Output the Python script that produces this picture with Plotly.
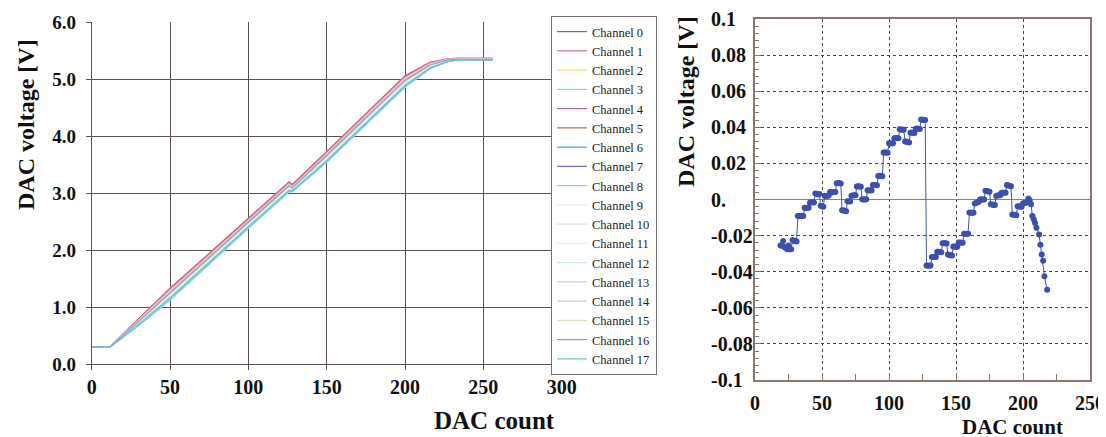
import plotly.graph_objects as go

W, H = 1106, 437
OFF = 8  # default page body margin in the written HTML

# ---------------- Left chart data (18 channels) ----------------
dac_x = [0, 12, 30, 50, 100, 126, 128, 150, 200, 216, 227, 234, 256]
channel_names = [f"Channel {i}" for i in range(18)]
channel_colors = ["#5f6fb5", "#d46aa6", "#e9e27a", "#86d3ea", "#b464b4", "#c0604e",
                  "#3fa7b0", "#6e6ec4", "#86cdea", "#dff1f3", "#d4e8d4", "#f2f2c4",
                  "#cfe3f3", "#f2b6cb", "#ebbfd6", "#f3d6c0", "#959bc6", "#5fc3d3"]
ch0 = [0.30, 0.31, 0.76, 1.27, 2.50, 3.15, 3.10, 3.67, 5.00, 5.27, 5.34, 5.35, 5.34]
ch1 = [0.30, 0.31, 0.80, 1.33, 2.56, 3.20, 3.15, 3.73, 5.06, 5.30, 5.36, 5.37, 5.37]
ch2 = [0.29, 0.30, 0.71, 1.19, 2.43, 3.07, 3.07, 3.59, 4.91, 5.21, 5.32, 5.35, 5.35]
ch3 = [0.29, 0.30, 0.67, 1.12, 2.38, 3.02, 3.02, 3.54, 4.86, 5.18, 5.31, 5.34, 5.34]
ch4 = [0.30, 0.31, 0.79, 1.31, 2.54, 3.19, 3.14, 3.71, 5.04, 5.29, 5.35, 5.36, 5.36]
ch5 = [0.30, 0.31, 0.79, 1.32, 2.55, 3.18, 3.15, 3.72, 5.05, 5.29, 5.35, 5.36, 5.36]
ch6 = [0.30, 0.31, 0.75, 1.25, 2.48, 3.12, 3.09, 3.65, 4.98, 5.25, 5.33, 5.35, 5.35]
ch7 = [0.30, 0.31, 0.77, 1.28, 2.52, 3.16, 3.12, 3.68, 5.01, 5.27, 5.34, 5.35, 5.33]
ch8 = [0.29, 0.30, 0.68, 1.14, 2.39, 3.03, 3.03, 3.55, 4.87, 5.19, 5.31, 5.34, 5.34]
ch9 = [0.30, 0.31, 0.74, 1.23, 2.47, 3.11, 3.08, 3.63, 4.96, 5.24, 5.33, 5.35, 5.35]
ch10 = [0.30, 0.31, 0.73, 1.22, 2.45, 3.10, 3.07, 3.62, 4.95, 5.23, 5.33, 5.35, 5.35]
ch11 = [0.29, 0.30, 0.72, 1.20, 2.44, 3.09, 3.07, 3.61, 4.93, 5.22, 5.32, 5.35, 5.35]
ch12 = [0.29, 0.30, 0.70, 1.17, 2.41, 3.06, 3.05, 3.58, 4.90, 5.20, 5.32, 5.34, 5.34]
ch13 = [0.30, 0.31, 0.78, 1.30, 2.53, 3.17, 3.12, 3.70, 5.03, 5.28, 5.35, 5.36, 5.36]
ch14 = [0.30, 0.31, 0.77, 1.28, 2.51, 3.16, 3.11, 3.68, 5.01, 5.27, 5.35, 5.36, 5.36]
ch15 = [0.30, 0.31, 0.76, 1.26, 2.49, 3.14, 3.10, 3.66, 4.99, 5.26, 5.34, 5.35, 5.35]
ch16 = [0.30, 0.31, 0.75, 1.25, 2.49, 3.13, 3.09, 3.66, 4.98, 5.25, 5.34, 5.35, 5.35]
ch17 = [0.29, 0.30, 0.70, 1.16, 2.41, 3.05, 3.04, 3.57, 4.89, 5.20, 5.31, 5.34, 5.34]
channels = [ch0, ch1, ch2, ch3, ch4, ch5, ch6, ch7, ch8, ch9, ch10, ch11, ch12,
            ch13, ch14, ch15, ch16, ch17]
left_yticks = [0, 1, 2, 3, 4, 5, 6]
left_yticktext = ["0.0", "1.0", "2.0", "3.0", "4.0", "5.0", "6.0"]
left_xticks = [0, 50, 100, 150, 200, 250, 300]

# ---------------- Right chart data (deviation) ----------------
dev_x = list(range(19, 207)) + [207, 208, 209, 210, 212, 213, 214, 215, 216, 218]
dev_y = [
    -0.0255, -0.0255, -0.0230, -0.0265, -0.0265, -0.0275, -0.0255, -0.0275, -0.0275,  # 19-27
    -0.0225, -0.0230, -0.0230, -0.0232,                                               # 28-31
    -0.0092, -0.0092, -0.0092, -0.0090, -0.0092,                                      # 32-36
    -0.0046, -0.0048, -0.0046, -0.0046,                                               # 37-40
    -0.0018, -0.0015, -0.0015, -0.0016,                                               # 41-44
    0.0033, 0.0032, 0.0028, 0.0030,                                                   # 45-48
    -0.0035, -0.0037, -0.0040,                                                        # 49-51
    0.0021, 0.0020, 0.0021, 0.0022,                                                   # 52-55
    0.0041, 0.0040, 0.0040, 0.0042, 0.0041,                                           # 56-60
    0.0090, 0.0092, 0.0090, 0.0088,                                                   # 61-64
    -0.0060, -0.0061, -0.0063, -0.0065,                                               # 65-68
    -0.0010, -0.0010, -0.0011,                                                        # 69-71
    0.0021, 0.0022, 0.0024, 0.0023,                                                   # 72-75
    0.0072, 0.0074, 0.0072, 0.0070,                                                   # 76-79
    0.0001, 0.0000, 0.0000, 0.0001,                                                   # 80-83
    0.0051, 0.0050, 0.0051, 0.0050,                                                   # 84-87
    0.0080, 0.0081, 0.0080, 0.0079,                                                   # 88-91
    0.0130, 0.0131, 0.0130, 0.0129,                                                   # 92-95
    0.0260, 0.0261, 0.0260, 0.0259,                                                   # 96-99
    0.0311, 0.0312, 0.0310, 0.0311,                                                   # 100-103
    0.0340, 0.0341, 0.0340, 0.0339,                                                   # 104-107
    0.0389, 0.0388, 0.0387, 0.0386,                                                   # 108-111
    0.0322, 0.0320, 0.0318, 0.0316,                                                   # 112-115
    0.0370, 0.0371, 0.0370, 0.0369,                                                   # 116-119
    0.0392, 0.0393, 0.0392, 0.0391,                                                   # 120-123
    0.0443, 0.0442, 0.0441, 0.0440,                                                   # 124-127
    -0.0365, -0.0367, -0.0367, -0.0366,                                               # 128-131
    -0.0318, -0.0318, -0.0317, -0.0318,                                               # 132-135
    -0.0290, -0.0290, -0.0291, -0.0292,                                               # 136-139
    -0.0242, -0.0242, -0.0243, -0.0244,                                               # 140-143
    -0.0305, -0.0308, -0.0309, -0.0310,                                               # 144-147
    -0.0260, -0.0261, -0.0262, -0.0262,                                               # 148-151
    -0.0238, -0.0238, -0.0239, -0.0240,                                               # 152-155
    -0.0190, -0.0190, -0.0191, -0.0190,                                               # 156-159
    -0.0072, -0.0073, -0.0074, -0.0074,                                               # 160-163
    -0.0022, -0.0020, -0.0015, -0.0013,                                               # 164-167
    0.0000, 0.0001, 0.0000, 0.0000,                                                   # 168-171
    0.0048, 0.0047, 0.0044, 0.0043,                                                   # 172-175
    -0.0026, -0.0028, -0.0030, -0.0031,                                               # 176-179
    0.0020, 0.0022, 0.0024, 0.0024,                                                   # 180-183
    0.0037, 0.0037, 0.0037, 0.0038,                                                   # 184-187
    0.0080, 0.0078, 0.0076, 0.0074,                                                   # 188-191
    -0.0083, -0.0085, -0.0086, -0.0087,                                               # 192-195
    -0.0037, -0.0038, -0.0040, -0.0040,                                               # 196-199
    -0.0022, -0.0020, -0.0017, -0.0017,                                               # 200-203
    0.0006, -0.0004, -0.0026,                                                         # 204-206
    -0.0092, -0.0110, -0.0130, -0.0157, -0.0194, -0.0250, -0.0305, -0.0340,
    -0.0425, -0.0500,
]
right_yticks = [0.1, 0.08, 0.06, 0.04, 0.02, 0.0, -0.02, -0.04, -0.06, -0.08, -0.1]
right_yticktext = ["0.1", "0.08", "0.06", "0.04", "0.02", "0.", "-0.02", "-0.04",
                   "-0.06", "-0.08", "-0.1"]
right_xticks = [0, 50, 100, 150, 200, 250]

SERIF = "Liberation Serif, Times New Roman, serif"


def px(xp):
    return (xp - OFF) / W


def py(yp):
    return 1 - (yp - OFF) / H


fig = go.Figure()

for name, color, vals in zip(channel_names, channel_colors, channels):
    fig.add_trace(go.Scatter(x=dac_x, y=vals, mode="lines", name=name,
                             line=dict(color=color, width=1.2),
                             xaxis="x", yaxis="y"))

fig.add_trace(go.Scatter(x=dev_x, y=dev_y, mode="lines+markers", showlegend=False,
                         line=dict(color="#4254b0", width=1),
                         marker=dict(color="#3d4fae", size=6),
                         xaxis="x2", yaxis="y2"))

grid_left = "#5e5050"
frame_right = "#86786f"

fig.update_layout(
    template="none",
    width=W, height=H,
    margin=dict(l=0, r=0, t=0, b=0, autoexpand=False),
    paper_bgcolor="white", plot_bgcolor="white",
    font=dict(family=SERIF, color="#111111"),
    xaxis=dict(domain=[px(91.7), px(561.7)], range=[0, 300], tickvals=left_xticks,
               automargin=False,
               showgrid=True, gridcolor=grid_left, gridwidth=1,
               showline=True, linecolor=grid_left, linewidth=1,
               ticks="outside", ticklen=5, tickcolor=grid_left,
               zeroline=False, anchor="y",
               tickfont=dict(family=SERIF, size=20, color="#111111", weight="bold")),
    yaxis=dict(domain=[py(364), py(22.3)], range=[0, 6], tickvals=left_yticks,
               ticktext=left_yticktext, automargin=False,
               showgrid=True, gridcolor=grid_left, gridwidth=1,
               showline=True, linecolor=grid_left, linewidth=1,
               ticks="outside", ticklen=5, tickcolor=grid_left,
               zeroline=False, anchor="x", ticklabelstandoff=6,
               tickfont=dict(family=SERIF, size=19, color="#111111", weight="bold")),
    xaxis2=dict(domain=[px(755), px(1090)], range=[0, 250], tickvals=right_xticks,
                automargin=False,
                showgrid=True, gridcolor="#444444", griddash="dot", gridwidth=1,
                showline=True, mirror=True, linecolor=frame_right, linewidth=1.5,
                ticks="inside", ticklen=7, tickcolor=frame_right,
                minor=dict(dtick=25, ticks="inside", ticklen=6, tickcolor=frame_right,
                           showgrid=False),
                zeroline=False, anchor="y2", ticklabelstandoff=4,
                tickfont=dict(family=SERIF, size=20, color="#111111", weight="bold")),
    yaxis2=dict(domain=[py(380), py(19)], range=[-0.1, 0.1], tickvals=right_yticks,
                showticklabels=False, automargin=False,
                showgrid=True, gridcolor="#444444", griddash="dot", gridwidth=1,
                showline=True, mirror=True, linecolor=frame_right, linewidth=1.5,
                ticks="inside", ticklen=6, tickcolor=frame_right,
                minor=dict(dtick=0.004, ticks="inside", ticklen=4, tickcolor=frame_right,
                           showgrid=False),
                zeroline=True, zerolinecolor="#7b78c8", zerolinewidth=1.2,
                anchor="x2"),
    legend=dict(x=px(551), y=py(16), xanchor="left", yanchor="top",
                bgcolor="white", bordercolor="#7a7070", borderwidth=1,
                font=dict(family=SERIF, size=12.5, color="#222222"),
                itemwidth=30, tracegroupgap=0),
    showlegend=True,
)

annotations = []
# right y tick labels (left aligned)
for v, t in zip(right_yticks, right_yticktext):
    annotations.append(dict(x=px(709), xref="paper", y=v, yref="y2", text=t,
                            showarrow=False, xanchor="left", yanchor="middle",
                            font=dict(family=SERIF, size=20, color="#111111",
                                      weight="bold")))
# axis titles
annotations += [
    dict(x=px(26), y=py(125), xref="paper", yref="paper", text="DAC voltage [V]",
         textangle=-90, showarrow=False, xanchor="center", yanchor="middle",
         font=dict(family=SERIF, size=24, color="#111111", weight="bold")),
    dict(x=px(494), y=py(420), xref="paper", yref="paper", text="DAC count",
         showarrow=False, xanchor="center", yanchor="middle",
         font=dict(family=SERIF, size=25, color="#111111", weight="bold")),
    dict(x=px(686), y=py(102), xref="paper", yref="paper", text="DAC voltage [V]",
         textangle=-90, showarrow=False, xanchor="center", yanchor="middle",
         font=dict(family=SERIF, size=24, color="#111111", weight="bold")),
    dict(x=px(1012), y=py(427), xref="paper", yref="paper", text="DAC count",
         showarrow=False, xanchor="center", yanchor="middle",
         font=dict(family=SERIF, size=21, color="#111111", weight="bold")),
]
fig.update_layout(annotations=annotations)

fig.write_html("out.html")
